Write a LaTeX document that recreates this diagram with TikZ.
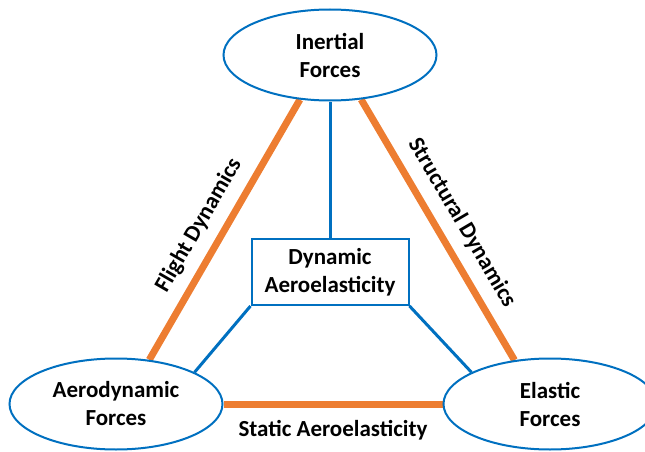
\documentclass[tikz,border=0pt]{standalone}
\usepackage{fontspec}
\setmainfont{Carlito}
\usetikzlibrary{shapes.geometric,backgrounds}
\definecolor{forceblue}{HTML}{0070C0}
\definecolor{linkorange}{HTML}{ED7D31}
\tikzset{
  force/.style={ellipse, draw=forceblue, line width=2pt, fill=white,
    minimum width=213pt, minimum height=91pt, inner sep=0pt, align=center,
    font=\fontsize{23}{28}\selectfont\bfseries},
  dynbox/.style={rectangle, draw=forceblue, line width=2pt, fill=white,
    minimum width=157pt, minimum height=66pt, inner sep=0pt, align=center,
    font=\fontsize{23}{28}\selectfont\bfseries},
  orangelink/.style={draw=linkorange, line width=7pt},
  bluelink/.style={draw=forceblue, line width=3pt},
  lbl/.style={font=\fontsize{23}{28}\selectfont\bfseries, inner sep=11pt}
}
\begin{document}
\begin{tikzpicture}[x=1pt,y=1pt]
\useasboundingbox (0,0) rectangle (645,451);

\node[force] (inertial) at (330,396) {Inertial\\Forces};
\node[force] (aero) at (116,47) {Aerodynamic\\Forces};
\node[force] (elastic) at (550,47) {Elastic\\Forces};
\node[dynbox] (dynamic) at (330,179) {Dynamic\\Aeroelasticity};

\begin{scope}[on background layer]
% orange links between the three forces
\draw[orangelink] (aero.53) -- node[lbl, sloped, above, pos=0.47] {Flight Dynamics} (inertial.236);
\draw[orangelink] (inertial.305) -- node[lbl, sloped, above, pos=0.52] {Structural Dynamics} (elastic.129);
\draw[orangelink] (aero) -- node[lbl, below, inner sep=13pt] {Static Aeroelasticity} (elastic);
% blue links to the box
\draw[bluelink] (inertial) -- (dynamic);
\draw[bluelink] (dynamic.south west) -- (aero.22);
\draw[bluelink] (dynamic.south east) -- (elastic.158);
\end{scope}
\end{tikzpicture}
\end{document}
